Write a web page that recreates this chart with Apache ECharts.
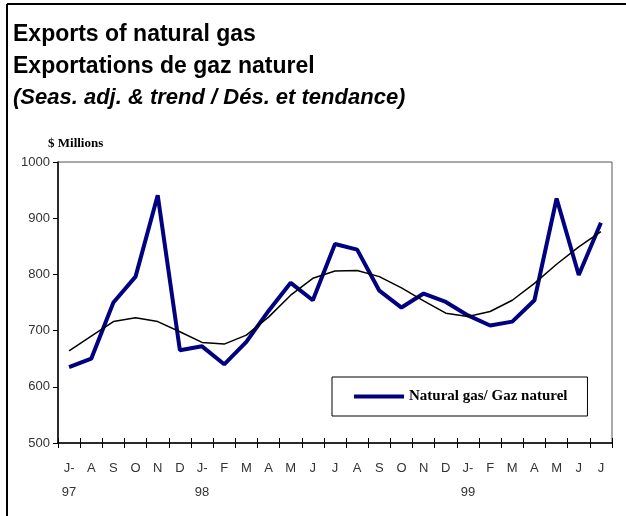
<!DOCTYPE html>
<html>
<head>
<meta charset="utf-8">
<script src="https://cdn.jsdelivr.net/npm/echarts@6/dist/echarts.min.js"></script>
<style>
  html, body { margin: 0; padding: 0; background: #fff; }
  #chart { width: 626px; height: 516px; }
</style>
</head>
<body>
<div id="chart"></div>
<script>
// months Jul 97 - Jul 99
var months = ['J-\n97', 'A', 'S', 'O', 'N', 'D', 'J-\n98', 'F', 'M', 'A', 'M', 'J',
              'J', 'A', 'S', 'O', 'N', 'D', 'J-\n99', 'F', 'M', 'A', 'M', 'J', 'J'];
var gasSA = [635, 650, 750, 796, 941, 665, 672, 640, 680, 735, 785, 754,
             854, 844, 771, 741, 766, 751, 727, 709, 716, 754, 935, 799, 892];
var gasTrend = [664, 690, 716, 723, 716, 698, 679, 676, 692, 724, 763, 793,
                806, 807, 796, 776, 753, 731, 725, 734, 754, 784, 818, 849, 876];
var yTicks = [500, 600, 700, 800, 900, 1000];

var myChart = echarts.init(document.getElementById('chart'));
var option = {
    animation: false,
    backgroundColor: '#fff',
    textStyle: { fontFamily: 'Liberation Sans, Arial, sans-serif' },
    title: [
        {
            text: 'Exports of natural gas\nExportations de gaz naturel',
            left: 8, top: 14,
            textStyle: { fontSize: 23, fontWeight: 'bold', color: '#000', lineHeight: 32 }
        },
        {
            text: '(Seas. adj. & trend / Dés. et tendance)',
            left: 8, top: 82,
            textStyle: { fontSize: 22, fontWeight: 'bold', fontStyle: 'italic', color: '#000' }
        },
        {
            text: '$ Millions',
            left: 43, top: 132,
            textStyle: { fontSize: 13, fontWeight: 'bold', color: '#000',
                         fontFamily: 'Liberation Serif, Times New Roman, serif' }
        }
    ],
    graphic: [
        { type: 'line', shape: { x1: 7, y1: 4, x2: 626, y2: 4 }, style: { stroke: '#000', lineWidth: 2 } },
        { type: 'line', shape: { x1: 7, y1: 4, x2: 7, y2: 516 }, style: { stroke: '#000', lineWidth: 2 } }
    ],
    legend: {
        data: ['Natural gas/ Gaz naturel'],
        left: 332, top: 377,
        orient: 'horizontal',
        icon: 'rect',
        itemWidth: 50, itemHeight: 4,
        itemGap: 4,
        padding: [12, 20, 12, 22],
        borderColor: '#000', borderWidth: 1,
        textStyle: { fontSize: 15, fontWeight: 'bold', color: '#000',
                     fontFamily: 'Liberation Serif, Times New Roman, serif' }
    },
    grid: {
        left: 58, right: 14, top: 162, bottom: 73,
        show: true, borderColor: '#555', borderWidth: 1, backgroundColor: 'transparent'
    },
    xAxis: [
        {
            type: 'category',
            data: months,
            boundaryGap: true,
            axisLine: { lineStyle: { color: '#000', width: 1.5 } },
            axisTick: { show: true, length: 5, interval: 0, lineStyle: { color: '#000' } },
            axisLabel: { interval: 0, color: '#333', fontSize: 13, margin: 13, lineHeight: 24 }
        },
        {
            type: 'category',
            data: months,
            position: 'bottom',
            boundaryGap: true,
            axisLine: { show: false },
            axisTick: { show: true, inside: true, length: 5, interval: 0, lineStyle: { color: '#000' } },
            axisLabel: { show: false }
        }
    ],
    yAxis: {
        type: 'value',
        min: yTicks[0], max: yTicks[yTicks.length - 1], interval: 100,
        axisLine: { show: true, lineStyle: { color: '#000', width: 1.5 } },
        axisTick: { show: true, length: 5, lineStyle: { color: '#000' } },
        axisLabel: { color: '#333', fontSize: 13, margin: 8, formatter: function (v) { return String(v); } },
        splitLine: { show: false }
    },
    series: [
        {
            name: 'Natural gas/ Gaz naturel',
            type: 'line',
            data: gasSA,
            symbol: 'none',
            color: '#000080',
            lineStyle: { color: '#000080', width: 4 },
            z: 3
        },
        {
            name: 'Trend',
            type: 'line',
            data: gasTrend,
            symbol: 'none',
            color: '#000',
            lineStyle: { color: '#000', width: 1.5 },
            z: 4
        }
    ]
};
if (option && typeof option === "object") {
    myChart.setOption(option, true);
}
</script>
</body>
</html>
